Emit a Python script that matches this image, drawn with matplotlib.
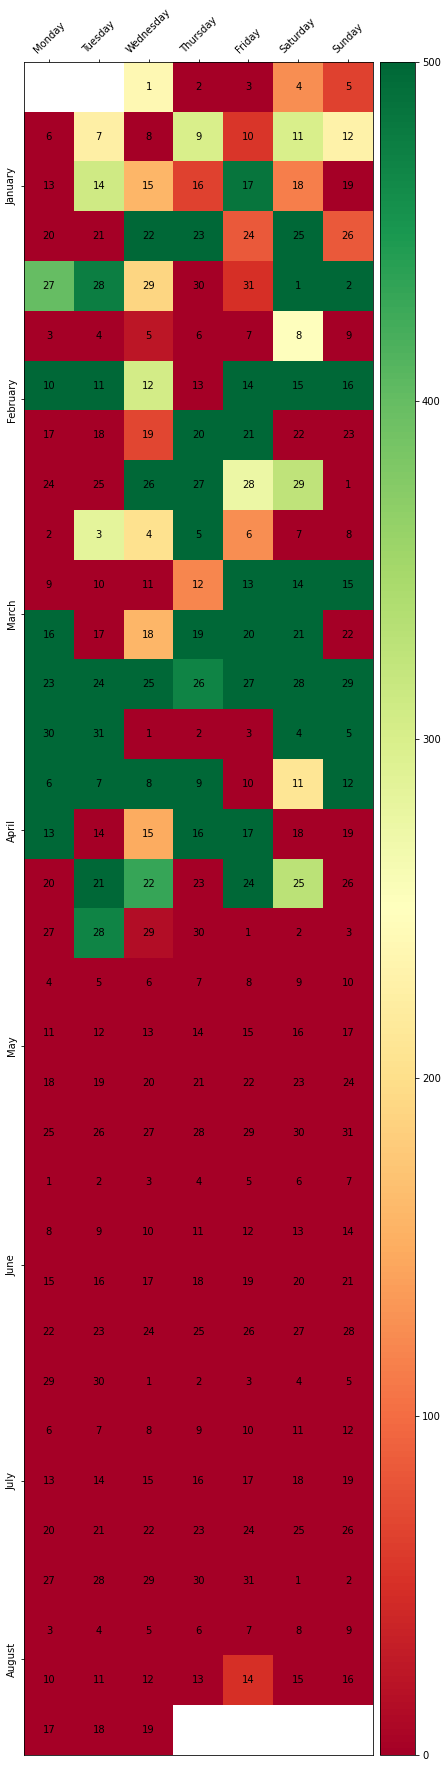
import matplotlib
matplotlib.use("Agg")
import matplotlib.pyplot as plt
import numpy as np
import pandas as pd

# daily values, 2020-01-01 .. 2020-08-19
jan = [240, 0, 0, 125, 65, 0, 225, 0, 300, 55, 300, 230, 0, 310, 160, 65,
       485, 115, 0, 0, 0, 500, 500, 85, 500, 85, 400, 475, 190, 0, 50]
feb = [500, 500, 0, 0, 25, 0, 0, 250, 0, 500, 500, 305, 0, 500, 500, 500,
       0, 0, 70, 500, 500, 0, 0, 0, 0, 500, 500, 275, 325]
mar = [0, 0, 285, 205, 500, 125, 0, 0, 0, 0, 0, 120, 500, 500, 500, 500,
       0, 160, 500, 500, 500, 0, 500, 500, 500, 470, 500, 500, 500, 500, 500]
apr = [0, 0, 0, 500, 500, 500, 500, 500, 500, 0, 210, 500, 500, 0, 150, 500,
       500, 0, 0, 0, 500, 430, 0, 500, 330, 0, 0, 470, 15, 0]
may = [0, 0, 0, 0, 0, 0, 0, 0, 0, 0, 0, 0, 0, 0, 0, 0,
       0, 0, 0, 0, 0, 0, 0, 0, 0, 0, 0, 0, 0, 0, 0]
jun = [0, 0, 0, 0, 0, 0, 0, 0, 0, 0, 0, 0, 0, 0, 0, 0,
       0, 0, 0, 0, 0, 0, 0, 0, 0, 0, 0, 0, 0, 0]
jul = [0, 0, 0, 0, 0, 0, 0, 0, 0, 0, 0, 0, 0, 0, 0, 0,
       0, 0, 0, 0, 0, 0, 0, 0, 0, 0, 0, 0, 0, 0, 0]
aug = [0, 0, 0, 0, 0, 0, 0, 0, 0, 0, 0, 0, 0, 50, 0, 0, 0, 0, 0]

weekdays = ["Monday", "Tuesday", "Wednesday", "Thursday", "Friday",
            "Saturday", "Sunday"]

values = jan + feb + mar + apr + may + jun + jul + aug
dates = pd.date_range("2020-01-01", periods=len(values), freq="D")

start = dates[0] - pd.Timedelta(days=dates[0].weekday())
rows = np.array([(d - start).days // 7 for d in dates])
cols = np.array([d.weekday() for d in dates])
n_rows = rows.max() + 1

grid = np.full((n_rows, 7), np.nan)
grid[rows, cols] = values

fig = plt.figure(figsize=(447 / 72, 1768 / 72), dpi=72)
ax = fig.add_axes([24 / 447, 1 - 1755 / 1768, 349 / 447, 1693 / 1768])
cax = fig.add_axes([380 / 447, 1 - 1755 / 1768, 35 / 447, 1693 / 1768])

im = ax.imshow(grid, cmap="RdYlGn", vmin=0, vmax=500, aspect="auto")

for r, c, d in zip(rows, cols, dates):
    ax.text(c, r, str(d.day), ha="center", va="center", color="black", fontsize=10)

ax.xaxis.tick_top()
ax.set_xticks(np.arange(7))
ax.set_xticklabels(weekdays, rotation=45)

# month label at mean week-row of its days
months = pd.Series(rows).groupby(dates.month).mean()
ax.set_yticks(months.values)
ax.set_yticklabels([pd.Timestamp(2020, m, 1).strftime("%B") for m in months.index],
                   rotation=90, va="center")

cb = fig.colorbar(im, cax=cax)
cb.set_ticks([0, 100, 200, 300, 400, 500])

fig.savefig("out.png", dpi=72)
